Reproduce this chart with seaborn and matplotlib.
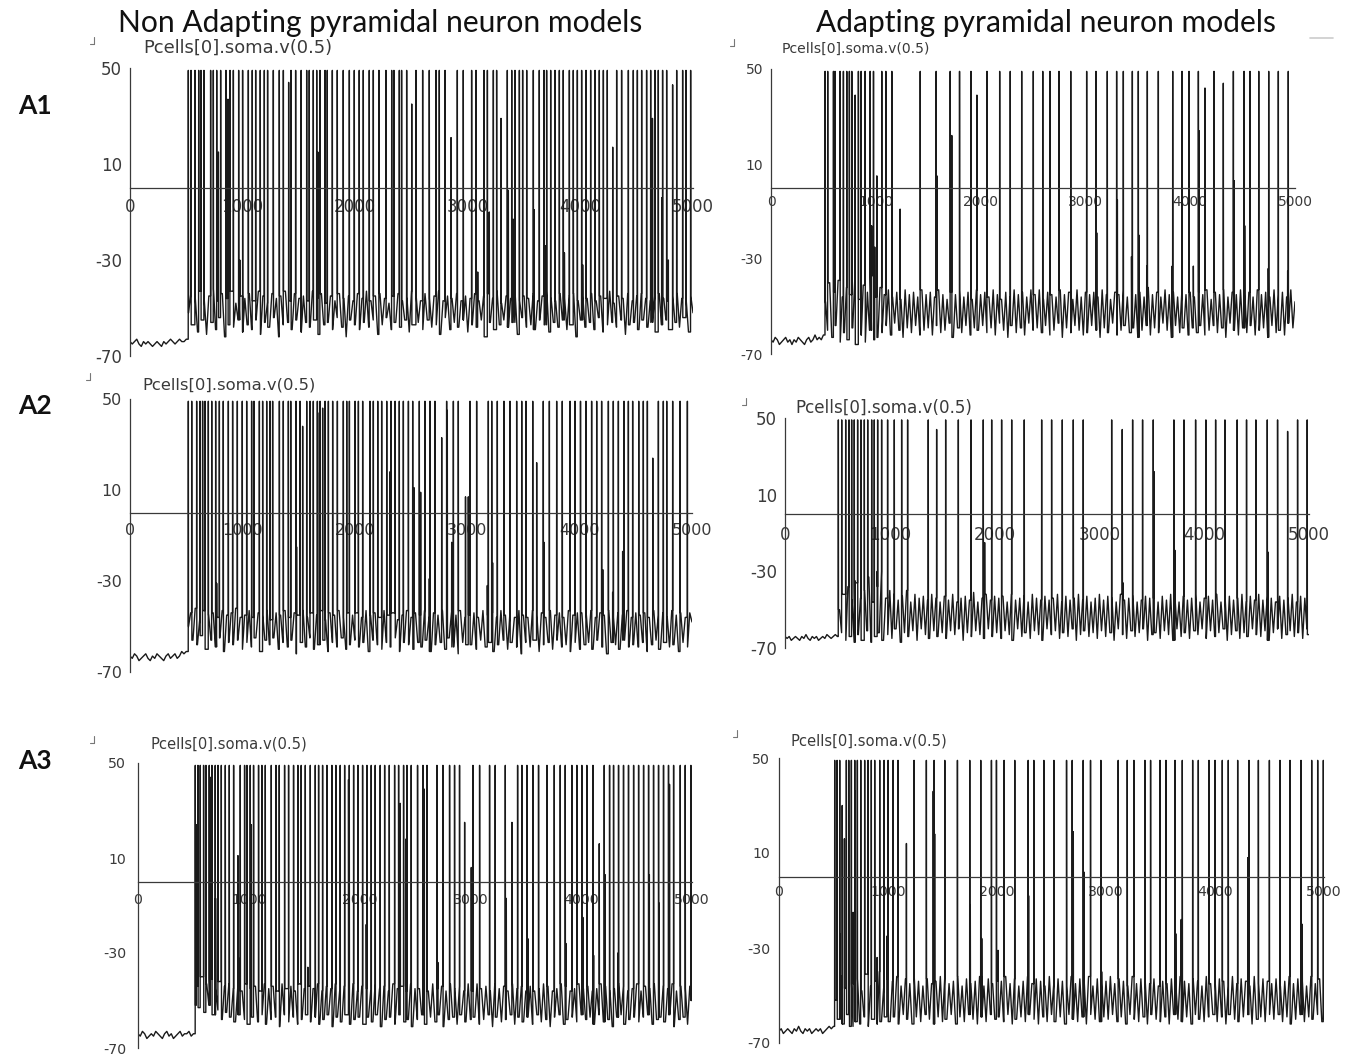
import numpy as np
import pandas as pd
import matplotlib
matplotlib.use("Agg")
import matplotlib.pyplot as plt
import seaborn as sns
from matplotlib.lines import Line2D

sns.set_style("white")
plt.rcParams["font.family"] = ["DejaVu Sans"]

W, H = 1356, 1056

# ---------------- data ----------------
COL_TITLES = ["Non Adapting pyramidal neuron models", "Adapting pyramidal neuron models"]
ROW_LABELS = ["A1", "A2", "A3"]
TRACE_LABEL = "Pcells[0].soma.v(0.5)"
XTICKS = [0, 1000, 2000, 3000, 4000, 5000]
YTICKS = [50, 10, -30, -70]
GRID_MS = 20          # sampling step of the subthreshold readings (ms)
FULL_PEAK = 49        # height of full-size spikes (mV)

# ---- A1, non adapting ----
a1l_grid = [
    -64, -65, -64, -63, -65, -66, -64, -65, -64, -65, -66, -65, -64, -65, -66, -64, -65, -64, -63, -64, -65, -64, -63, -64, -64, -63,
    -52, -44, -57, -46, -60, -43, -55, -47, -61, -45, -56, -42, -59, -47, -54, -44, -62, -46, -57, -43, -58, -48, -55, -45, -60,
    -46, -57, -44, -59, -47, -55, -43, -61, -45, -56, -48, -58, -44, -54, -46, -62, -45, -57, -43, -56, -47, -59, -44, -55, -46,
    -60, -45, -56, -47, -58, -43, -55, -46, -61, -44, -57, -48, -56, -45, -59, -47, -54, -44, -58, -46, -62, -45, -55, -47, -57,
    -44, -59, -46, -56, -43, -58, -47, -55, -45, -61, -44, -57, -46, -54, -48, -59, -45, -56, -44, -58, -47, -55, -46, -60, -43,
    -57, -45, -56, -47, -59, -44, -55, -46, -58, -45, -57, -43, -61, -47, -54, -45, -59, -46, -56, -44, -58, -47, -55, -45, -60,
    -46, -57, -44, -58, -47, -55, -45, -62, -44, -56, -46, -59, -43, -57, -48, -55, -45, -58, -46, -56, -44, -61, -47, -54, -45,
    -58, -46, -57, -44, -59, -47, -55, -45, -57, -43, -60, -46, -56, -47, -58, -44, -55, -46, -59, -45, -57, -44, -62, -47, -55,
    -45, -58, -46, -56, -44, -59, -47, -54, -45, -60, -46, -57, -43, -56, -48, -58, -45, -55, -46, -61, -44, -57, -47, -56, -45,
    -59, -44, -55, -46, -58, -47, -56, -45, -60, -44, -57, -46, -55, -47, -59, -45, -56, -44, -58, -46, -54, -47, -60, -45, -52]
a1l_spikes = [518, 542, 577, 610, 630, 657, 716, 740, 770, 805, 852, 888, 918, 965, 1000, 1051, 1086, 1116, 1157, 1193,
              1222, 1273, 1326, 1362, 1430, 1471, 1520, 1569, 1592, 1628, 1658, 1687, 1732, 1752, 1797, 1841, 1894, 1948,
              1992, 2036, 2072, 2125, 2161, 2211, 2273, 2324, 2344, 2392, 2412, 2457, 2540, 2599, 2658, 2718, 2747, 2798,
              2907, 2960, 3034, 3073, 3144, 3174, 3227, 3256, 3351, 3390, 3419, 3458, 3487, 3523, 3582, 3635, 3677, 3700,
              3736, 3774, 3813, 3848, 3902, 3937, 3973, 4011, 4050, 4091, 4130, 4168, 4204, 4239, 4322, 4366, 4426, 4470,
              4506, 4544, 4588, 4624, 4662, 4692, 4730, 4766, 4855, 4908, 4938, 4979]
a1l_part_t = [785, 870, 975, 1409, 1668, 2502, 2851, 3088, 3191, 3295, 3360, 3404, 3588, 3686, 3858, 4020, 4287, 4640, 4722, 4781, 4819]
a1l_part_v = [15, 37, -30, 44, 15, 35, 21, -35, -10, 29, -1, -13, -9, -24, -27, -32, 17, 29, -4, -30, 43]

# ---- A1, adapting ----
a1r_grid = [
    -64, -65, -63, -64, -66, -65, -64, -63, -65, -64, -66, -64, -65, -63, -64, -65, -66, -64, -63, -65, -64, -62, -64, -63, -64, -62,
    -48, -60, -40, -63, -44, -58, -39, -65, -46, -61, -42, -64, -45, -59, -38, -66, -47, -62, -41, -65, -44, -60, -37, -64, -46,
    -63, -42, -61, -45, -58, -43, -62, -46, -57, -44, -60, -47, -63, -43, -59, -45, -61, -44, -58, -46, -62, -43, -60, -45, -59,
    -44, -62, -46, -58, -43, -61, -45, -60, -47, -57, -44, -63, -45, -59, -43, -61, -46, -58, -44, -62, -47, -59, -43, -60, -45,
    -58, -44, -61, -46, -59, -43, -62, -45, -57, -47, -60, -44, -63, -46, -58, -43, -61, -45, -59, -44, -62, -46, -57, -43, -60,
    -45, -59, -43, -61, -47, -58, -44, -62, -45, -60, -46, -57, -43, -63, -45, -59, -44, -61, -47, -58, -43, -60, -46, -62, -44,
    -61, -45, -58, -44, -60, -46, -63, -43, -59, -45, -61, -47, -57, -44, -62, -45, -60, -43, -58, -46, -61, -44, -59, -45, -63,
    -44, -60, -46, -58, -42, -62, -45, -59, -44, -61, -46, -57, -43, -60, -45, -63, -44, -58, -46, -61, -43, -59, -45, -62, -44,
    -59, -46, -61, -44, -58, -45, -62, -43, -60, -47, -58, -44, -61, -45, -59, -43, -63, -46, -57, -44, -60, -45, -62, -43, -59,
    -45, -61, -44, -58, -46, -62, -43, -60, -45, -59, -44, -63, -46, -58, -43, -61, -45, -60, -44, -62, -46, -57, -43, -59, -48]
a1r_spikes = [516, 541, 596, 611, 659, 691, 723, 748, 771, 834, 860, 898, 946, 978, 1057, 1096, 1153, 1424, 1576, 1710,
              1799, 1908, 2061, 2182, 2283, 2392, 2503, 2593, 2662, 2748, 2860, 3012, 3101, 3209, 3298, 3362, 3448, 3505,
              3591, 3696, 3833, 3922, 3989, 4078, 4227, 4412, 4514, 4571, 4654, 4749, 4841, 4936]
a1r_part_t = [803, 960, 990, 1010, 1232, 1583, 1725, 1965, 3108, 3305, 3440, 3512, 3585, 3828, 4030, 4085, 4141, 4316, 4420, 4520, 4745, 4930]
a1r_part_v = [39, -16, -25, 5, -9, 5, 22, 39, -19, -5, -29, -20, -33, -33, -33, 24, 42, 44, 3, -16, -34, -35]

# ---- A2, non adapting ----
a2l_grid = [
    -63, -64, -62, -63, -65, -64, -63, -62, -64, -65, -63, -64, -62, -63, -64, -65, -63, -62, -64, -63, -62, -64, -63, -61, -62, -61,
    -50, -44, -56, -42, -58, -47, -54, -43, -60, -45, -56, -44, -59, -46, -55, -43, -61, -45, -57, -44, -58, -42, -56, -46, -60,
    -45, -57, -43, -59, -46, -55, -44, -61, -45, -56, -43, -58, -47, -55, -44, -60, -45, -57, -43, -59, -46, -56, -44, -62, -45,
    -57, -43, -59, -46, -55, -44, -60, -45, -58, -43, -56, -47, -61, -44, -57, -45, -59, -43, -55, -46, -60, -44, -58, -45, -56,
    -44, -59, -46, -57, -43, -61, -45, -56, -44, -58, -46, -60, -43, -57, -45, -59, -44, -55, -47, -61, -45, -57, -43, -58, -46,
    -60, -44, -57, -45, -59, -43, -56, -46, -61, -44, -58, -45, -57, -43, -60, -46, -55, -44, -59, -45, -62, -43, -57, -46, -58,
    -45, -58, -44, -60, -46, -56, -43, -59, -45, -57, -44, -61, -46, -58, -43, -56, -45, -60, -44, -57, -46, -59, -43, -62, -45,
    -57, -46, -59, -43, -56, -45, -61, -44, -58, -46, -57, -43, -60, -45, -56, -44, -59, -46, -58, -43, -61, -45, -57, -44, -60,
    -44, -58, -45, -57, -43, -60, -46, -56, -44, -59, -45, -62, -43, -57, -46, -58, -44, -60, -45, -56, -43, -59, -46, -58, -44,
    -59, -45, -57, -44, -61, -46, -58, -43, -56, -45, -60, -44, -57, -46, -59, -43, -58, -45, -61, -44, -57, -46, -59, -44, -48]
a2l_spikes = [519, 549, 593, 623, 646, 667, 697, 727, 762, 795, 830, 875, 913, 955, 999, 1038, 1082, 1103, 1151, 1180,
              1216, 1246, 1269, 1329, 1364, 1409, 1430, 1477, 1513, 1572, 1602, 1631, 1667, 1691, 1735, 1765, 1803, 1845,
              1898, 1928, 1952, 2002, 2032, 2070, 2135, 2165, 2204, 2239, 2284, 2322, 2358, 2396, 2432, 2477, 2515, 2574,
              2624, 2669, 2713, 2817, 2877, 2921, 3025, 3084, 3188, 3218, 3268, 3327, 3381, 3440, 3485, 3523, 3583, 3677,
              3731, 3796, 3846, 3915, 3959, 4008, 4057, 4107, 4152, 4196, 4256, 4300, 4345, 4395, 4434, 4472, 4526, 4567,
              4603, 4701, 4745, 4775, 4828, 4894, 4959]
a2l_part_t = [771, 1482, 1536, 1685, 1714, 2313, 2527, 2586, 2663, 2773, 2823, 2862, 2985, 3010, 3179, 3226, 3618, 3683, 4206, 4294, 4383, 4651]
a2l_part_v = [-31, -15, 38, 44, 46, 18, 11, 9, -29, 33, 45, -13, 7, 7, -32, -22, 22, -13, -25, -35, -17, 24]

# ---- A2, adapting ----
a2r_grid = [
    -64, -65, -64, -66, -65, -64, -65, -66, -64, -65, -63, -65, -66, -64, -65, -64, -66, -65, -64, -65, -63, -64, -65, -64, -63, -64,
    -50, -62, -42, -66, -38, -64, -45, -67, -36, -63, -44, -66, -40, -61, -33, -67, -46, -64, -38, -62, -30, -66, -44, -63, -40,
    -65, -42, -60, -45, -67, -43, -62, -40, -64, -46, -61, -42, -66, -44, -60, -43, -63, -45, -65, -42, -61, -44, -64, -46, -62,
    -43, -65, -45, -61, -42, -63, -46, -60, -44, -66, -43, -62, -45, -64, -41, -61, -46, -63, -44, -65, -42, -60, -45, -64, -43,
    -62, -44, -65, -43, -61, -46, -63, -42, -66, -45, -60, -44, -64, -43, -62, -46, -65, -42, -61, -44, -63, -45, -66, -43, -60,
    -45, -63, -44, -61, -42, -65, -46, -62, -43, -64, -45, -60, -44, -66, -42, -63, -45, -61, -43, -64, -46, -62, -44, -65, -42,
    -61, -45, -64, -43, -62, -44, -66, -46, -60, -42, -63, -45, -65, -44, -61, -43, -64, -46, -62, -45, -60, -43, -66, -44, -63,
    -44, -62, -46, -65, -43, -61, -45, -63, -42, -66, -44, -60, -46, -64, -43, -62, -45, -65, -44, -61, -42, -63, -46, -60, -44,
    -65, -43, -61, -45, -64, -42, -62, -46, -60, -44, -66, -43, -63, -45, -61, -44, -65, -42, -62, -46, -64, -43, -60, -45, -63,
    -42, -64, -45, -61, -43, -66, -44, -62, -46, -60, -43, -65, -45, -63, -44, -61, -42, -64, -46, -62, -43, -65, -44, -60, -63]
a2r_spikes = [509, 541, 579, 611, 636, 661, 693, 725, 757, 789, 827, 852, 884, 922, 979, 1043, 1113, 1170, 1367, 1533,
              1654, 1775, 1892, 1972, 2067, 2163, 2283, 2449, 2544, 2646, 2751, 2846, 3117, 3317, 3412, 3514, 3711, 3807,
              3918, 4016, 4109, 4198, 4315, 4404, 4493, 4602, 4700, 4891, 4983]
a2r_part_t = [670, 880, 1447, 1905, 3218, 3225, 3522, 3720, 4610, 4796]
a2r_part_v = [-35, -30, 44, -15, 44, -36, 22, -19, -20, 43]

# ---- A3, non adapting ----
a3l_grid = [
    -64, -65, -63, -64, -66, -65, -64, -65, -63, -64, -65, -66, -64, -63, -65, -64, -66, -65, -64, -63, -65, -64, -64, -63, -65, -64,
    -52, -44, -53, -40, -55, -43, -52, -41, -56, -45, -54, -42, -58, -44, -55, -43, -57, -45, -59, -44, -56, -46, -58, -43, -60,
    -45, -57, -44, -59, -46, -56, -43, -60, -45, -58, -44, -57, -46, -61, -43, -56, -45, -59, -44, -57, -46, -60, -43, -58, -45,
    -56, -44, -59, -45, -57, -43, -60, -46, -58, -44, -56, -45, -61, -43, -57, -46, -59, -44, -56, -45, -60, -43, -58, -46, -57,
    -44, -60, -45, -57, -46, -59, -43, -56, -45, -61, -44, -58, -46, -57, -43, -60, -45, -56, -44, -59, -46, -58, -43, -61, -45,
    -58, -45, -56, -44, -60, -46, -57, -43, -59, -45, -56, -44, -61, -46, -58, -43, -57, -45, -60, -44, -56, -46, -59, -43, -58,
    -46, -57, -43, -60, -45, -58, -44, -56, -46, -61, -43, -57, -45, -59, -44, -58, -46, -56, -43, -60, -45, -57, -44, -59, -46,
    -57, -44, -60, -46, -56, -45, -59, -43, -58, -44, -61, -46, -57, -45, -56, -43, -60, -44, -58, -46, -57, -45, -59, -43, -56,
    -45, -58, -44, -57, -46, -60, -45, -56, -43, -59, -44, -58, -46, -61, -45, -57, -43, -56, -44, -60, -46, -58, -45, -57, -43,
    -59, -46, -57, -44, -56, -45, -60, -43, -58, -46, -57, -44, -59, -45, -56, -43, -61, -46, -58, -44, -57, -45, -60, -44, -50]
a3l_spikes = [517, 541, 562, 592, 613, 643, 667, 697, 722, 752, 788, 824, 863, 923, 962, 983, 1013, 1043, 1088, 1118,
              1149, 1203, 1245, 1275, 1323, 1359, 1404, 1443, 1473, 1510, 1555, 1600, 1630, 1666, 1705, 1750, 1786, 1825,
              1865, 1907, 1946, 1985, 2027, 2066, 2105, 2141, 2186, 2226, 2268, 2316, 2352, 2397, 2427, 2466, 2523, 2572,
              2608, 2698, 2752, 2812, 2857, 2902, 3023, 3083, 3173, 3224, 3315, 3426, 3465, 3510, 3564, 3615, 3691, 3757,
              3811, 3856, 3916, 3961, 4006, 4051, 4106, 4208, 4256, 4292, 4337, 4382, 4427, 4473, 4518, 4563, 4608, 4653,
              4698, 4743, 4788, 4834, 4894, 4939, 4990]
a3l_part_t = [527, 652, 700, 902, 907, 1023, 1533, 1900, 2060, 2367, 2418, 2578, 2584, 2707, 2948, 3008, 3324, 3375, 3519,
              3862, 4015, 4112, 4163, 4215, 4331, 4615, 4704, 4797, 4995]
a3l_part_v = [24, 44, -7, 11, -32, 24, -36, 43, -18, 33, 18, -2, 39, -34, 25, 6, -7, 25, -24,
              -26, -15, -31, 16, 3, -30, 3, -9, 41, 21]

# ---- A3, adapting ----
a3r_grid = [
    -65, -64, -66, -65, -64, -65, -66, -64, -65, -63, -65, -66, -64, -65, -64, -66, -65, -64, -65, -64, -66, -65, -64, -63, -64, -63,
    -52, -60, -42, -62, -47, -58, -40, -63, -45, -61, -43, -62, -48, -59, -41, -63, -46, -60, -44, -62, -40, -61, -47, -59, -43,
    -61, -44, -59, -42, -62, -46, -58, -43, -60, -45, -62, -42, -59, -44, -61, -46, -58, -43, -60, -45, -62, -44, -59, -42, -61,
    -43, -60, -45, -58, -44, -62, -42, -59, -46, -61, -43, -58, -45, -60, -44, -62, -42, -59, -46, -61, -43, -58, -45, -60, -44,
    -59, -44, -61, -42, -58, -45, -62, -43, -60, -46, -59, -44, -61, -42, -58, -45, -60, -43, -62, -44, -59, -46, -61, -42, -58,
    -45, -61, -43, -59, -44, -62, -46, -58, -42, -60, -45, -61, -43, -59, -44, -62, -42, -58, -46, -60, -43, -61, -45, -59, -44,
    -60, -42, -58, -45, -61, -43, -59, -44, -62, -46, -58, -42, -60, -45, -61, -43, -59, -44, -62, -45, -58, -43, -60, -46, -61,
    -44, -59, -45, -62, -43, -58, -46, -60, -42, -61, -44, -59, -45, -62, -43, -58, -44, -60, -46, -61, -42, -59, -45, -58, -44,
    -61, -43, -59, -44, -62, -46, -58, -42, -60, -45, -61, -43, -59, -44, -58, -46, -62, -42, -60, -45, -59, -43, -61, -44, -58,
    -45, -60, -43, -58, -46, -61, -44, -59, -42, -62, -45, -60, -43, -58, -44, -61, -46, -59, -42, -60, -45, -58, -43, -61, -60]
a3r_spikes = [511, 533, 557, 618, 640, 664, 695, 719, 750, 786, 817, 847, 878, 924, 964, 1001, 1047, 1092, 1239, 1352,
              1423, 1521, 1637, 1750, 1851, 1949, 1995, 2065, 2163, 2286, 2338, 2430, 2522, 2638, 2690, 2791, 2858, 2953,
              3112, 3195, 3256, 3357, 3409, 3495, 3550, 3633, 3700, 3795, 3847, 3945, 4000, 4067, 4122, 4208, 4312, 4398,
              4499, 4596, 4688, 4789, 4887, 4942, 4994]
a3r_part_t = [560, 580, 600, 645, 680, 700, 900, 990, 1169, 1415, 1428, 1755, 1860, 2010, 2290, 2700, 2797, 2960, 3640, 3690, 4300, 4800]
a3r_part_v = [-24, 30, 16, -6, -15, 36, -34, -25, 14, 36, 18, -12, -26, -31, -8, 19, 2, -40, -24, -18, 8, -20]

# ---------------- layout / style (pixels of the 1356x1056 canvas) ----------------
PANELS = [
    dict(data=(a1l_grid, a1l_spikes, a1l_part_t, a1l_part_v), x0=130, x1=693, y50=68, y70=356,
         tx=143, ty=48, fst=12.9, fsk=12, dy=17, tick=15, gap=8, corner=(94, 44)),
    dict(data=(a1r_grid, a1r_spikes, a1r_part_t, a1r_part_v), x0=771, x1=1295, y50=69, y70=354,
         tx=782, ty=49, fst=10.1, fsk=10, dy=14, tick=12, gap=8, corner=(734, 46)),
    dict(data=(a2l_grid, a2l_spikes, a2l_part_t, a2l_part_v), x0=130, x1=692, y50=399, y70=672,
         tx=142, ty=385, fst=11.8, fsk=11.5, dy=17, tick=12, gap=8, corner=(90, 380)),
    dict(data=(a2r_grid, a2r_spikes, a2r_part_t, a2r_part_v), x0=785, x1=1309, y50=418, y70=648,
         tx=795, ty=408, fst=12.1, fsk=12, dy=20, tick=15, gap=8, corner=(746, 405)),
    dict(data=(a3l_grid, a3l_spikes, a3l_part_t, a3l_part_v), x0=138, x1=692, y50=763, y70=1048,
         tx=150, ty=744, fst=10.6, fsk=10.2, dy=18, tick=13, gap=12, corner=(94, 743)),
    dict(data=(a3r_grid, a3r_spikes, a3r_part_t, a3r_part_v), x0=779, x1=1324, y50=758, y70=1043,
         tx=790, ty=741, fst=10.6, fsk=10.2, dy=15, tick=13, gap=9, corner=(737, 737)),
]

TRACE_COLOR = "#1a1a1a"
AXIS_COLOR = "#3a3a3a"
TEXT_COLOR = "#3a3a3a"
PX = 72 / 100.0   # points per pixel at dpi 100


def build_trace(grid_v, spikes, part_t, part_v):
    gt = np.arange(len(grid_v)) * GRID_MS
    gv = np.asarray(grid_v, dtype=float)
    ev_t = np.concatenate([np.asarray(spikes, float), np.asarray(part_t, float)])
    ev_v = np.concatenate([np.full(len(spikes), float(FULL_PEAK)), np.asarray(part_v, float)])
    order = np.argsort(ev_t, kind="stable")
    ts, vs = list(gt.astype(float)), list(gv)
    for te, ve in zip(ev_t[order], ev_v[order]):
        i = int(np.searchsorted(gt, te))
        before = gv[max(i - 1, 0)]
        after = gv[min(i, len(gv) - 1)]
        ts += [te - 1.0, te, te + 1.5]
        vs += [before, ve, after]
    df = pd.DataFrame({"t": ts, "v": vs}).sort_values("t", kind="stable").reset_index(drop=True)
    return df


fig = plt.figure(figsize=(W / 100, H / 100), dpi=100)
fig.patch.set_facecolor("white")


def fx(x):
    return x / W


def fy(y):
    return 1 - y / H


for p in PANELS:
    ax = fig.add_axes([fx(p["x0"]), fy(p["y70"]), (p["x1"] - p["x0"]) / W, (p["y70"] - p["y50"]) / H])
    ax.set_facecolor("none")
    df = build_trace(*p["data"])
    sns.lineplot(data=df, x="t", y="v", sort=False, estimator=None, color=TRACE_COLOR,
                 linewidth=1.0, ax=ax, legend=False)
    ax.set_xlim(XTICKS[0], XTICKS[-1])
    ax.set_ylim(YTICKS[-1], YTICKS[0])
    ax.set_xlabel("")
    ax.set_ylabel("")
    ax.set_axisbelow(True)
    for s in ("top", "right"):
        ax.spines[s].set_visible(False)
    ax.spines["left"].set_color(AXIS_COLOR)
    ax.spines["left"].set_linewidth(0.9)
    ax.spines["bottom"].set_position(("data", 0))
    ax.spines["bottom"].set_color(AXIS_COLOR)
    ax.spines["bottom"].set_linewidth(0.9)
    ax.set_yticks(YTICKS)
    ax.set_yticklabels([str(v) for v in YTICKS])
    ax.set_xticks(XTICKS)
    ax.set_xticklabels([str(v) for v in XTICKS])
    ax.tick_params(axis="y", direction="in", length=p["tick"] * PX, width=0.9, color=AXIS_COLOR,
                   pad=p["gap"] * PX, labelsize=p["fsk"], labelcolor=TEXT_COLOR)
    ax.tick_params(axis="x", direction="in", length=9 * PX, width=0.9, color=AXIS_COLOR,
                   pad=max(p["dy"] * PX - 0.45 * p["fsk"], 1), labelsize=p["fsk"], labelcolor=TEXT_COLOR)
    ax.grid(False)
    fig.text(fx(p["tx"]), fy(p["ty"]), TRACE_LABEL, ha="left", va="center",
             fontsize=p["fst"], color=TEXT_COLOR)
    cx, cy = p["corner"]
    fig.add_artist(Line2D([fx(cx), fx(cx)], [fy(cy - 7), fy(cy)], transform=fig.transFigure,
                          color="#777777", lw=0.8))
    fig.add_artist(Line2D([fx(cx - 4), fx(cx)], [fy(cy), fy(cy)], transform=fig.transFigure,
                          color="#777777", lw=0.8))

# column headers and row labels
HEAD_FONT = ["Lato", "DejaVu Sans"]
fig.text(fx(380), fy(23), COL_TITLES[0], ha="center", va="center", fontsize=21.6,
         family=HEAD_FONT, color="#111111")
fig.text(fx(1046), fy(23), COL_TITLES[1], ha="center", va="center", fontsize=21.6,
         family=HEAD_FONT, color="#111111")
for lab, y in zip(ROW_LABELS, [106, 406, 761]):
    fig.text(fx(18), fy(y), lab, ha="left", va="center", fontsize=19, fontweight="bold",
             family=HEAD_FONT, color="#111111")

# small window-edge remnant at top right
fig.add_artist(Line2D([fx(1310), fx(1333)], [fy(38), fy(38)], transform=fig.transFigure,
                      color="#cccccc", lw=1.2))

fig.savefig("out.png", dpi=100, facecolor="white")
